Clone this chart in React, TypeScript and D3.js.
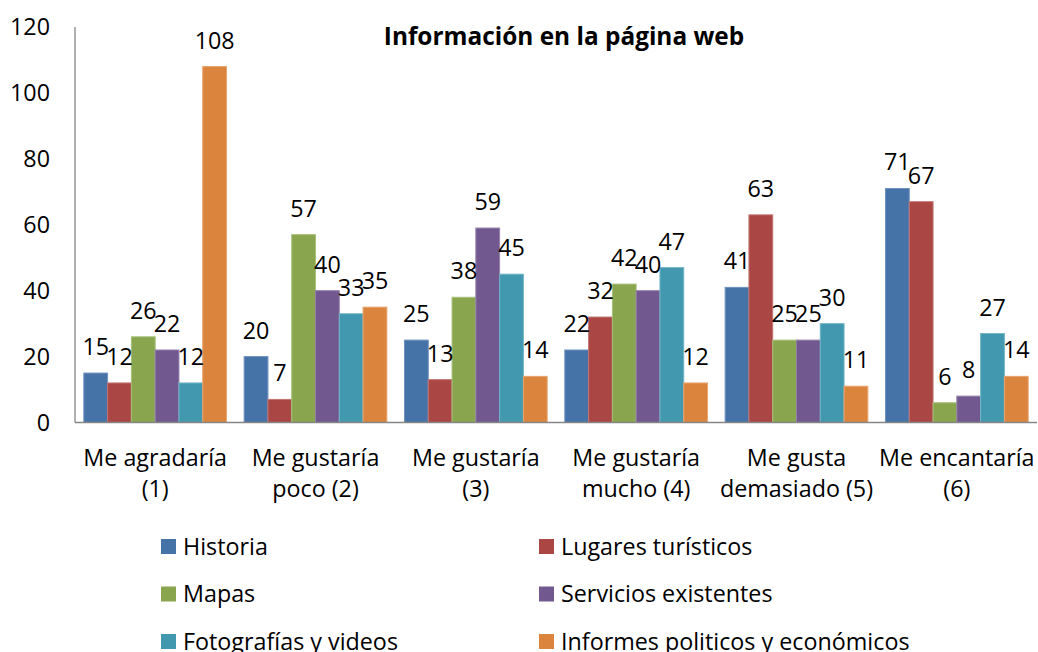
import React from "react";
import * as d3 from "d3";

const categories = [
  ["Me agradaría", "(1)"],
  ["Me gustaría", "poco (2)"],
  ["Me gustaría", "(3)"],
  ["Me gustaría", "mucho (4)"],
  ["Me gusta", "demasiado (5)"],
  ["Me encantaría", "(6)"],
];

const seriesNames = [
  "Historia",
  "Lugares turísticos",
  "Mapas",
  "Servicios existentes",
  "Fotografías y videos",
  "Informes politicos y económicos",
];

const historia = [15, 20, 25, 22, 41, 71];
const lugares = [12, 7, 13, 32, 63, 67];
const mapas = [26, 57, 38, 42, 25, 6];
const servicios = [22, 40, 59, 40, 25, 8];
const fotos = [12, 33, 45, 47, 30, 27];
const informes = [108, 35, 14, 12, 11, 14];

const seriesValues = [historia, lugares, mapas, servicios, fotos, informes];
const colors = ["#4572A7", "#AA4643", "#89A54E", "#71588F", "#4198AF", "#DB843D"];
const strokes = ["#6f92bf", "#c27573", "#a8c07a", "#9580ab", "#72b6c7", "#e8a46e"];

const yTicks = [0, 20, 40, 60, 80, 100, 120];

const W = 1038;
const H = 652;
const left = 75;
const right = 1037;
const top = 27;
const bottom = 422.5;
const FONT = "'Open Sans', Lato, sans-serif";
const FS = 23.3;

export default function App() {
  const x0 = d3
    .scaleBand<number>()
    .domain(d3.range(categories.length))
    .range([left, right])
    .paddingInner(0.11)
    .paddingOuter(0.055);
  const x1 = d3
    .scaleBand<number>()
    .domain(d3.range(seriesNames.length))
    .range([0, x0.bandwidth()]);
  const y = d3.scaleLinear().domain([0, 120]).range([bottom, top]);

  return (
    <svg
      width={W}
      height={H}
      style={{ position: "absolute", left: 0, top: 0, background: "#fff" }}
      fontFamily={FONT}
    >
      <rect x={0} y={0} width={W} height={H} fill="#fff" />
      {yTicks.map((t) => (
        <text
          key={t}
          x={50}
          y={y(t)}
          dy="0.35em"
          textAnchor="end"
          fontSize={FS}
          fill="#000"
        >
          {t}
        </text>
      ))}
      {seriesValues.map((vals, si) =>
        vals.map((v, ci) => {
          const bx = (x0(ci) as number) + (x1(si) as number);
          return (
            <rect
              key={`b${si}-${ci}`}
              x={bx}
              y={y(v)}
              width={x1.bandwidth()}
              height={bottom - y(v)}
              fill={colors[si]}
              stroke={strokes[si]}
              strokeWidth={1}
            />
          );
        })
      )}
      {seriesValues.map((vals, si) =>
        vals.map((v, ci) => {
          const bx = (x0(ci) as number) + (x1(si) as number) + x1.bandwidth() / 2;
          return (
            <text
              key={`l${si}-${ci}`}
              x={bx}
              y={y(v) - 18}
              textAnchor="middle"
              fontSize={FS}
              fill="#000"
            >
              {v}
            </text>
          );
        })
      )}
      <line x1={left} x2={left} y1={top} y2={bottom} stroke="#868686" strokeWidth={1.3} />
      <line x1={left} x2={right} y1={bottom} y2={bottom} stroke="#868686" strokeWidth={1.3} />
      {categories.map((c, ci) => {
        const cx = (x0(ci) as number) + x0.bandwidth() / 2;
        return (
          <text key={`c${ci}`} textAnchor="middle" fontSize={FS} fill="#000">
            <tspan x={cx} y={466}>
              {c[0]}
            </tspan>
            <tspan x={cx} y={497}>
              {c[1]}
            </tspan>
          </text>
        );
      })}
      <text x={564} y={45} textAnchor="middle" fontSize={24.4} fontWeight="bold" fill="#000">
        Información en la página web
      </text>
      {seriesNames.map((n, i) => {
        const col = i % 2;
        const row = Math.floor(i / 2);
        const sx = col === 0 ? 161 : 539;
        const cy = 546.5 + row * 47.5;
        return (
          <g key={`lg${i}`}>
            <rect x={sx} y={cy - 7.5} width={15} height={15} fill={colors[i]} />
            <text x={sx + 22} y={cy} dy="0.35em" fontSize={FS} fill="#000">
              {n}
            </text>
          </g>
        );
      })}
    </svg>
  );
}
